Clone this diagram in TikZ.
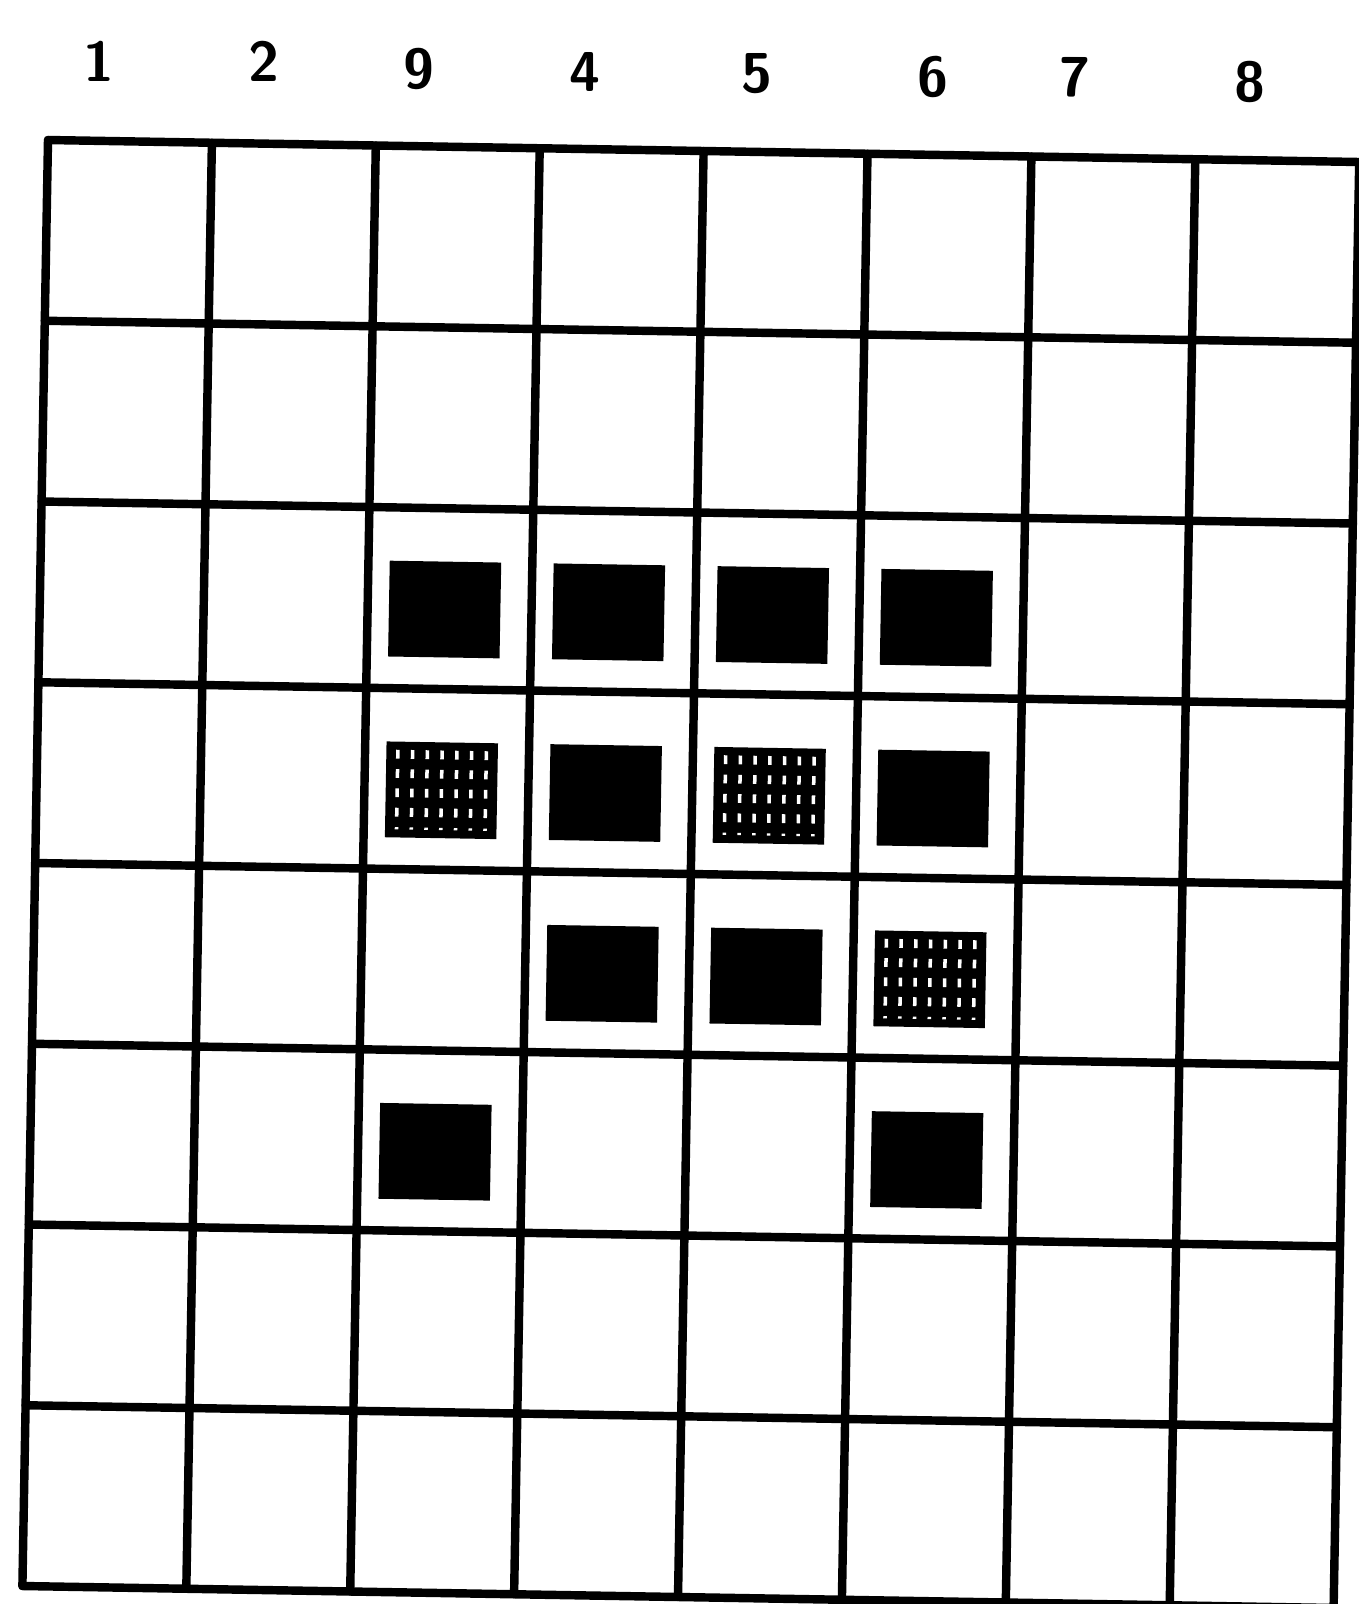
\documentclass[tikz,border=0pt]{standalone}
\usetikzlibrary{positioning}

\begin{document}
\begin{tikzpicture}[
  gridline/.style={line width=2.4pt, line cap=round},
  markbox/.style={fill=black},
  hatchline/.style={white, line width=1pt, dash pattern=on 2.5pt off 3pt},
  colnum/.style={font=\sffamily\bfseries\fontsize{16}{16}\selectfont, inner sep=0pt}
]
\useasboundingbox (0,0) rectangle (13.59,-16.04);

% column numbers
\foreach \t/\x/\y [count=\n] in {1/0.99/0.61, 2/2.64/0.61, 9/4.19/0.69, 4/5.85/0.72,
                                 5/7.57/0.74, 6/9.33/0.77, 7/10.75/0.77, 8/12.50/0.82}
  \node[colnum] (lbl\n) at (\x,-\y) {\t};

% the (slightly skewed) board
\begin{scope}[shift={(0.48,-1.40)}, x={(1.639cm,-0.0275cm)}, y={(-0.032cm,-1.8075cm)}]
  \foreach \i in {0,...,8} {
    \draw[gridline] (\i,0) -- (\i,8);
    \draw[gridline] (0,\i) -- (8,\i);
  }
  % 0 = solid, 1 = hatched
  \foreach \c/\r/\k in {2/2/0, 3/2/0, 4/2/0, 5/2/0,
                        2/3/1, 3/3/0, 4/3/1, 5/3/0,
                        3/4/0, 4/4/0, 5/4/1,
                        2/5/0, 5/5/0} {
    \fill[markbox] (\c+0.13,\r+0.295) -- (\c+0.81,\r+0.295)
      -- (\c+0.81,\r+0.825) -- (\c+0.13,\r+0.825) -- cycle;
    \ifnum\k=1
      \foreach \h in {0.2,0.29,...,0.76}
        \draw[hatchline] (\c+\h,\r+0.34) -- (\c+\h,\r+0.78);
    \fi
  }
\end{scope}
\end{tikzpicture}
\end{document}
